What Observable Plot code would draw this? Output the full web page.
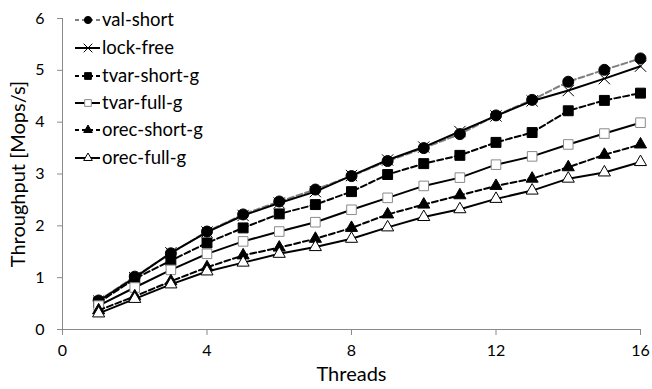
<!DOCTYPE html>
<html>
<head>
<meta charset="utf-8">
<script src="https://cdn.jsdelivr.net/npm/d3@7"></script>
<script src="https://cdn.jsdelivr.net/npm/@observablehq/plot@0.6"></script>
<style>
  html, body { margin: 0; padding: 0; background: #fff; }
  #chart { position: relative; width: 652px; height: 389px; }
  #legend { position: absolute; left: 0; top: 0; pointer-events: none; }
</style>
</head>
<body>
<div id="chart"></div>
<script>
// ---- data ----
const threads = [1, 2, 3, 4, 5, 6, 7, 8, 9, 10, 11, 12, 13, 14, 15, 16];
const valShort   = [0.56, 1.02, 1.47, 1.89, 2.22, 2.47, 2.70, 2.96, 3.25, 3.50, 3.77, 4.13, 4.43, 4.78, 5.01, 5.23];
const lockFree   = [0.55, 1.00, 1.48, 1.88, 2.20, 2.44, 2.66, 2.97, 3.27, 3.52, 3.82, 4.12, 4.41, 4.61, 4.84, 5.08];
const tvarShortG = [0.52, 0.98, 1.33, 1.67, 1.96, 2.23, 2.41, 2.66, 2.99, 3.20, 3.36, 3.61, 3.80, 4.22, 4.42, 4.56];
const tvarFullG  = [0.46, 0.81, 1.15, 1.46, 1.70, 1.89, 2.07, 2.31, 2.54, 2.77, 2.93, 3.18, 3.34, 3.57, 3.78, 3.99];
const orecShortG = [0.37, 0.64, 0.93, 1.20, 1.43, 1.58, 1.75, 1.96, 2.22, 2.41, 2.59, 2.77, 2.91, 3.13, 3.37, 3.57];
const orecFullG  = [0.31, 0.59, 0.87, 1.12, 1.29, 1.46, 1.59, 1.75, 1.97, 2.17, 2.32, 2.52, 2.68, 2.91, 3.03, 3.23];
const seriesNames = ["val-short", "lock-free", "tvar-short-g", "tvar-full-g", "orec-short-g", "orec-full-g"];
const xTicks = [0, 4, 8, 12, 16];
const yTicks = [0, 1, 2, 3, 4, 5, 6];
const xTitle = "Threads";
const yTitle = "Throughput [Mops/s]";

// ---- styles ----
const seriesValues = [valShort, lockFree, tvarShortG, tvarFullG, orecShortG, orecFullG];
const styles = [
  {line: "#7f7f7f", dash: "6,3", symbol: "circle",   r: 5.5, fill: "#000", stroke: "#000", lr: 3.6},
  {line: "#000",    dash: null,  symbol: "times",    r: 5.2, fill: "none", stroke: "#000", lr: 4},
  {line: "#000",    dash: "6,3", symbol: "square",   r: 5.6, fill: "#000", stroke: "#000", lr: 3.8},
  {line: "#000",    dash: null,  symbol: "square",   r: 5.4, fill: "#fff", stroke: "#8a8a8a", lr: 3.8},
  {line: "#000",    dash: "6,3", symbol: "triangle", r: 4.5, fill: "#000", stroke: "#000", lr: 3.2},
  {line: "#000",    dash: null,  symbol: "triangle", r: 4.5, fill: "#fff", stroke: "#000", lr: 3.2}
];

const rows = [];
seriesNames.forEach((s, i) => threads.forEach((t, j) => rows.push({series: s, threads: t, value: seriesValues[i][j]})));

const marks = [
  Plot.ruleX([0], {stroke: "#8a8a8a", strokeWidth: 1}),
  Plot.ruleY([0], {stroke: "#8a8a8a", strokeWidth: 1}),
  Plot.axisY({ticks: yTicks, tickFormat: d => String(d), tickSize: 5, tickPadding: 13,
    stroke: "#8a8a8a", fill: "#000", fontSize: 16, label: null}),
  Plot.axisX({ticks: xTicks, tickFormat: d => String(d), tickSize: 6, tickPadding: 9,
    stroke: "#8a8a8a", fill: "#000", fontSize: 16, label: null}),
  Plot.text([xTitle], {text: d => d, frameAnchor: "bottom", dy: 51, fontSize: 20, fill: "#000"}),
  Plot.text([yTitle], {text: d => d, frameAnchor: "left", textAnchor: "middle", rotate: -90,
    dx: -44, fontSize: 20, fill: "#000"})
];
seriesNames.forEach((s, i) => {
  const st = styles[i];
  const d = rows.filter(r => r.series === s);
  marks.push(Plot.line(d, {x: "threads", y: "value", stroke: st.line, strokeWidth: 2,
    strokeDasharray: st.dash || undefined}));
  marks.push(Plot.dot(d, {x: "threads", y: "value", symbol: () => st.symbol, r: st.r,
    fill: st.fill, stroke: st.stroke, strokeWidth: 1}));
});

const plot = Plot.plot({
  width: 652,
  height: 389,
  marginLeft: 62,
  marginRight: 12,
  marginTop: 18,
  marginBottom: 60,
  style: {fontFamily: "Lato, 'Open Sans', sans-serif", fontSize: "16px", color: "#000", background: "#fff"},
  x: {domain: [0, 16], axis: null},
  y: {domain: [0, 6], axis: null},
  symbol: {type: "identity"},
  marks
});
document.getElementById("chart").appendChild(plot);

// ---- legend (top-left inside plot area) ----
const leg = d3.select("#chart").append("svg").attr("id", "legend")
  .attr("width", 652).attr("height", 389)
  .style("font-family", "Lato, 'Open Sans', sans-serif");
const symMap = {circle: d3.symbolCircle, times: d3.symbolTimes, square: d3.symbolSquare, triangle: d3.symbolTriangle};
const rowY = [20, 48, 76, 103, 130, 158];
seriesNames.forEach((s, i) => {
  const st = styles[i];
  const g = leg.append("g").attr("transform", `translate(0,${rowY[i]})`);
  g.append("line").attr("x1", 75).attr("x2", 100).attr("y1", 0).attr("y2", 0)
    .attr("stroke", st.line).attr("stroke-width", 2)
    .attr("stroke-dasharray", st.dash ? "4,3" : null);
  g.append("path").attr("transform", "translate(88,0)")
    .attr("d", d3.symbol(symMap[st.symbol], Math.PI * st.lr * st.lr)())
    .attr("fill", st.fill).attr("stroke", st.stroke).attr("stroke-width", 1);
  g.append("text").attr("x", 102).attr("y", 0).attr("dy", "0.35em")
    .attr("font-size", 18.5).attr("fill", "#000").text(s);
});
</script>
</body>
</html>
